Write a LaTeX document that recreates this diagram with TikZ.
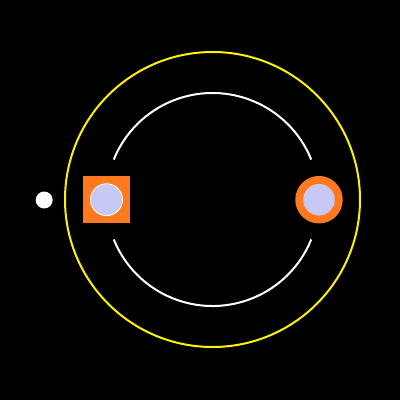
\documentclass[tikz,border=0pt]{standalone}
\begin{document}
\begin{tikzpicture}[x=1pt,y=-1pt,
  orbit/.style={draw=yellow,line width=2pt},
  ring/.style={draw=white,line width=2pt}
]
\definecolor{orng}{RGB}{255,122,30}
\definecolor{lav}{RGB}{200,200,245}
\fill[black] (0,0) rectangle (400,400);
\useasboundingbox (0,0) rectangle (400,400);
\coordinate (c) at (212.5,199.5);
\draw[orbit] (c) circle[radius=147.5];
\draw[ring] ([shift={(-22:106.5)}]c) arc[start angle=-22,end angle=-158,radius=106.5];
\draw[ring] ([shift={(22:106.5)}]c) arc[start angle=22,end angle=158,radius=106.5];
\node[fill=orng,minimum size=47pt,inner sep=0pt] (sq) at (106.5,199.7) {};
\node[circle,fill=lav,draw=white,line width=0.8pt,inner sep=0pt,minimum size=32pt] (sqc) at (sq.center) {};
\node[circle,fill=orng,inner sep=0pt,minimum size=47.5pt] (oc) at (319,199.7) {};
\node[circle,fill=lav,inner sep=0pt,minimum size=31.5pt] (occ) at (oc.center) {};
\node[circle,fill=white,inner sep=0pt,minimum size=17pt] (dot) at (44.2,200) {};
\end{tikzpicture}
\end{document}
